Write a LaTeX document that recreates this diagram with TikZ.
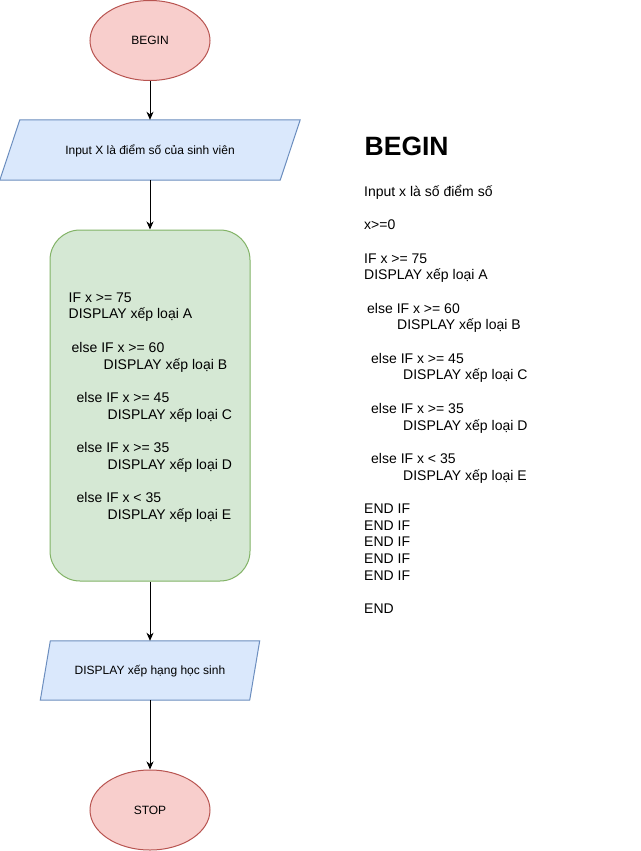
\documentclass[tikz,border=0pt]{standalone}
\usepackage{fontspec}
\setmainfont{Liberation Sans}
\usetikzlibrary{arrows.meta,shapes.geometric,backgrounds}
\definecolor{termfill}{HTML}{F8CECC}
\definecolor{termline}{HTML}{B85450}
\definecolor{iofill}{HTML}{DAE8FC}
\definecolor{ioline}{HTML}{6C8EBF}
\definecolor{procfill}{HTML}{D5E8D4}
\definecolor{procline}{HTML}{82B366}
\begin{document}
\begin{tikzpicture}[x=1pt,y=-1pt,
  small/.style={font=\fontsize{12}{14}\selectfont, text height=8.6pt, text depth=0.4pt},
  terminal/.style={small, ellipse, draw=termline, fill=termfill, line width=1pt,
    minimum width=120pt, minimum height=80pt, inner sep=0pt},
  iobox/.style={small, rectangle, inner sep=0pt, minimum height=60pt},
  ioframe/.style={draw=ioline, fill=iofill, line width=1pt, line join=miter},
  process/.style={rectangle, rounded corners=30pt, draw=procline, fill=procfill,
    line width=1pt, minimum width=200pt, minimum height=351pt},
  code/.style={anchor=north west, inner sep=0pt, align=left,
    font=\fontsize{14}{16.7}\selectfont},
  heading/.style={anchor=base west, inner sep=0pt,
    font=\fontsize{26.5}{30}\selectfont\bfseries},
  flow/.style={line width=1pt, -{Stealth[length=8pt,width=7pt,inset=2.5pt]}}
]
\useasboundingbox (0,0) rectangle (640,851);
\begin{scope}[on background layer]
  \fill[white] (0,0) rectangle (640,851);
\end{scope}

% flowchart column
\node[terminal] (begin) at (150,40.5) {BEGIN};
\node[iobox, minimum width=280pt] (input) at (150,150) {Input X là điểm số của sinh viên};
\node[process] (grade) at (150,405.5) {};
\node[code] (gradecode) at (68.5,288) {%
\rule{0pt}{14pt}IF x >= 75\\
DISPLAY xếp loại A\\[16.7pt]
\hspace*{3pt}else IF x >= 60\\
\hspace*{35pt}DISPLAY xếp loại B\\[16.7pt]
\hspace*{8pt}else IF x >= 45\\
\hspace*{39pt}DISPLAY xếp loại C\\[16.7pt]
\hspace*{8pt}else IF x >= 35\\
\hspace*{39pt}DISPLAY xếp loại D\\[16.7pt]
\hspace*{8pt}else IF x < 35\\
\hspace*{39pt}DISPLAY xếp loại E};
\node[iobox, minimum width=209pt, minimum height=59pt] (output) at (150,670.5) {DISPLAY xếp hạng học sinh};
\node[terminal] (stop) at (150,810) {STOP};

% parallelogram outlines behind the input/output texts
\begin{scope}[on background layer]
  \draw[ioframe] ([xshift=10pt]input.north west) -- ([xshift=10pt]input.north east)
    -- ([xshift=-10pt]input.south east) -- ([xshift=-10pt]input.south west) -- cycle;
  \draw[ioframe] ([xshift=5pt]output.north west) -- ([xshift=5pt]output.north east)
    -- ([xshift=-5pt]output.south east) -- ([xshift=-5pt]output.south west) -- cycle;
\end{scope}

% connectors
\draw[flow] (begin) -- (input);
\draw[flow] (input) -- (grade);
\draw[flow] (grade) -- (output);
\draw[flow] (output) -- (stop);

% pseudocode column
\node[heading] (title) at (364.5,155) {BEGIN};
\node[code] (pseudo) at (364,182) {%
\rule{0pt}{14pt}Input x là số điểm số\\[16.7pt]
x>=0\\[16.7pt]
IF x >= 75\\
DISPLAY xếp loại A\\[16.7pt]
\hspace*{3pt}else IF x >= 60\\
\hspace*{33pt}DISPLAY xếp loại B\\[16.7pt]
\hspace*{7pt}else IF x >= 45\\
\hspace*{39pt}DISPLAY xếp loại C\\[16.7pt]
\hspace*{7pt}else IF x >= 35\\
\hspace*{39pt}DISPLAY xếp loại D\\[16.7pt]
\hspace*{7pt}else IF x < 35\\
\hspace*{39pt}DISPLAY xếp loại E\\[16.7pt]
END IF\\
END IF\\
END IF\\
END IF\\
END IF\\[16.7pt]
END};
\end{tikzpicture}
\end{document}
